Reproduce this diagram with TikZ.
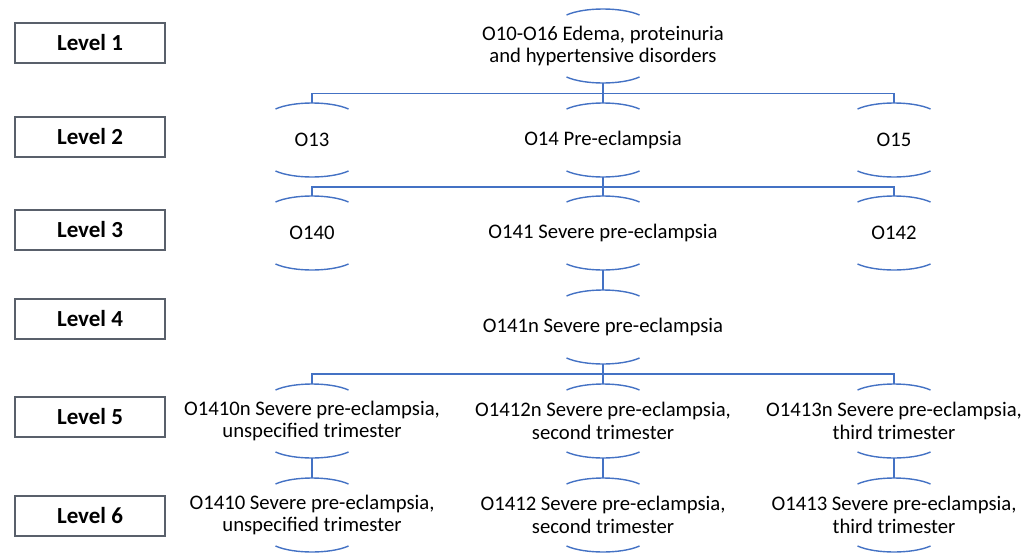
\documentclass[tikz,border=0pt]{standalone}
\usepackage{fontspec}
\setmainfont{Carlito}
\definecolor{conblue}{HTML}{4472C4}
\definecolor{boxgray}{HTML}{59606B}
\tikzset{
  tn/.style={font=\fontsize{20.7}{22.5}\selectfont, align=center, inner sep=0pt, text=black},
  lvl/.style={draw=boxgray, line width=1.3pt, minimum width=150pt, minimum height=40pt, inner sep=0pt,
              font=\fontsize{23}{26}\selectfont\bfseries},
  arcln/.style={draw=conblue, line width=1.4pt},
  conn/.style={draw=conblue, line width=1.4pt},
}
\newcommand\tnode[4]{%
  \node[tn] (#1) at (#2,#3) {#4};
  \coordinate (#1-t) at (#2,#3-37);
  \coordinate (#1-b) at (#2,#3+37);
  \draw[arcln] (#2-36.5,#3-31) .. controls +(18,-8) and +(-18,-8) .. (#2+36.5,#3-31);
  \draw[arcln] (#2-36.5,#3+31) .. controls +(18,8) and +(-18,8) .. (#2+36.5,#3+31);
}
\begin{document}
\begin{tikzpicture}[x=1pt,y=-1pt]
\useasboundingbox (0,0) rectangle (1023,552);
% level boxes
\node[lvl] (L1) at (90,43) {Level 1};
\node[lvl] (L2) at (90,137) {Level 2};
\node[lvl] (L3) at (90,230) {Level 3};
\node[lvl] (L4) at (90,319) {Level 4};
\node[lvl] (L5) at (90,417) {Level 5};
\node[lvl] (L6) at (90,516) {Level 6};
% tree nodes
\tnode{r}{603}{46}{O10-O16 Edema, proteinuria\\and hypertensive disorders}
\tnode{a}{312}{140}{O13}
\tnode{b}{603}{140}{O14 Pre-eclampsia}
\tnode{c}{894}{140}{O15}
\tnode{d}{312}{233}{O140}
\tnode{e}{603}{233}{O141 Severe pre-eclampsia}
\tnode{f}{894}{233}{O142}
\tnode{g}{603}{327}{O141n Severe pre-eclampsia}
\tnode{h}{312}{421}{O1410n Severe pre-eclampsia,\\unspecified trimester}
\tnode{i}{603}{421}{O1412n Severe pre-eclampsia,\\second trimester}
\tnode{j}{894}{421}{O1413n Severe pre-eclampsia,\\third trimester}
\tnode{k}{312}{515}{O1410 Severe pre-eclampsia,\\unspecified trimester}
\tnode{l}{603}{515}{O1412 Severe pre-eclampsia,\\second trimester}
\tnode{m}{894}{515}{O1413 Severe pre-eclampsia,\\third trimester}
% connectors
\draw[conn] (r-b) -- ++(0,10.25) -| (a-t);
\draw[conn] (r-b) -- ++(0,10.25) -| (c-t);
\draw[conn] (r-b) -- (b-t);
\draw[conn] (b-b) -- ++(0,10) -| (d-t);
\draw[conn] (b-b) -- ++(0,10) -| (f-t);
\draw[conn] (b-b) -- (e-t);
\draw[conn] (e-b) -- (g-t);
\draw[conn] (g-b) -- ++(0,10) -| (h-t);
\draw[conn] (g-b) -- ++(0,10) -| (j-t);
\draw[conn] (g-b) -- (i-t);
\draw[conn] (h-b) -- (k-t);
\draw[conn] (i-b) -- (l-t);
\draw[conn] (j-b) -- (m-t);
\end{tikzpicture}
\end{document}
